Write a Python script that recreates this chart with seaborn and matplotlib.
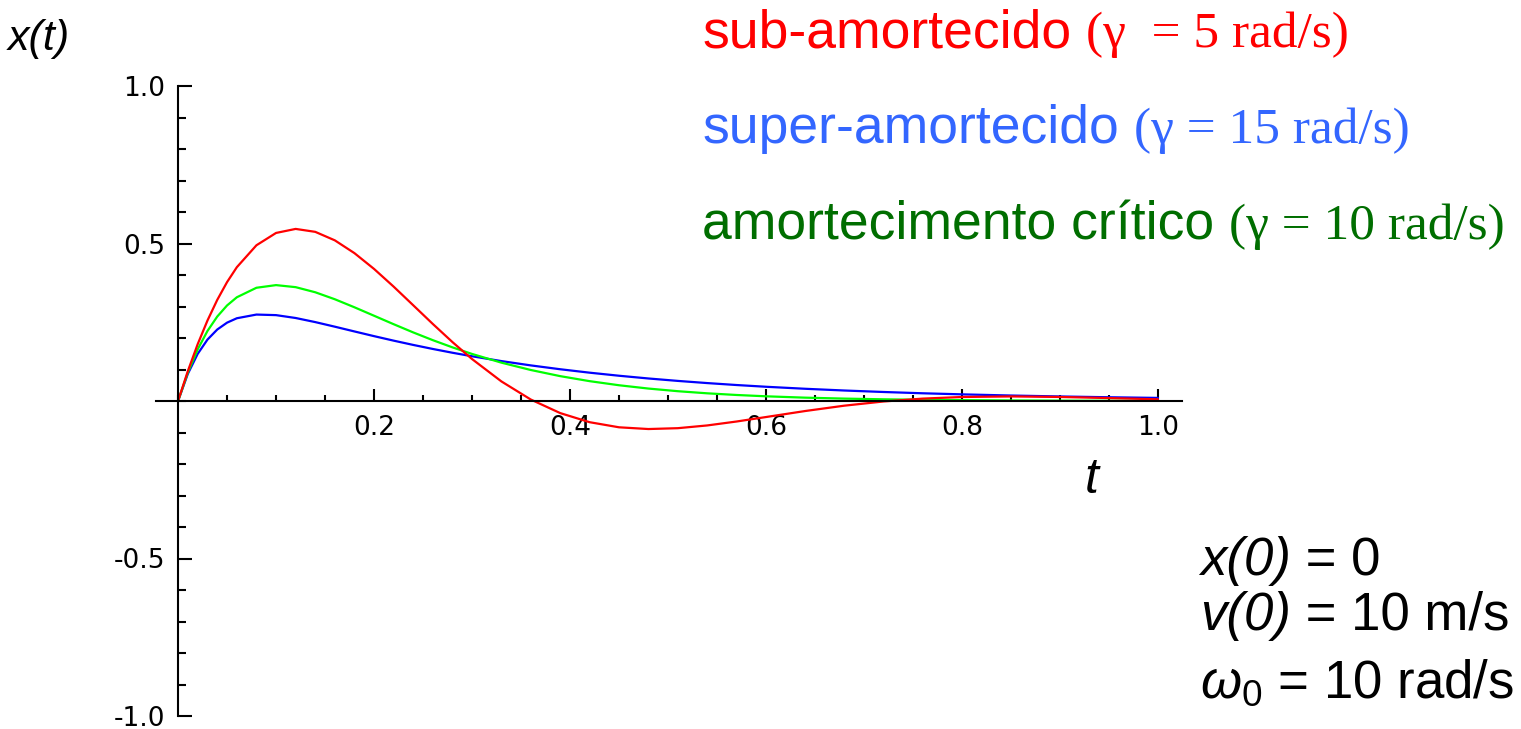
import matplotlib
matplotlib.use("Agg")
import matplotlib.pyplot as plt
from matplotlib.ticker import MultipleLocator
import pandas as pd
import seaborn as sns

# valores
t = [0, 0.01, 0.02, 0.03, 0.04, 0.05, 0.06,
     0.08, 0.10, 0.12, 0.14, 0.16, 0.18, 0.20, 0.22, 0.24, 0.26, 0.28, 0.30,
     0.33, 0.36, 0.39, 0.42, 0.45, 0.48, 0.51, 0.54, 0.57, 0.60,
     0.64, 0.68, 0.72, 0.76, 0.80,
     0.85, 0.90, 0.95, 1.00]
x_sub = [0, 0.0950, 0.1801, 0.2553, 0.3210, 0.3774, 0.4248,
         0.4944, 0.5335, 0.5463, 0.5370, 0.5100, 0.4694, 0.4193, 0.3631, 0.3039, 0.2445, 0.1871, 0.1332,
         0.0621, 0.0046, -0.0384, -0.0673, -0.0835, -0.0890, -0.0863, -0.0776, -0.0651, -0.0509,
         -0.0318, -0.0148, -0.0015, 0.0076, 0.0127,
         0.0145, 0.0128, 0.0093, 0.0054]
x_critico = [0, 0.0905, 0.1637, 0.2222, 0.2681, 0.3033, 0.3293,
             0.3595, 0.3679, 0.3614, 0.3452, 0.3230, 0.2975, 0.2707, 0.2438, 0.2177, 0.1931, 0.1703, 0.1494,
             0.1217, 0.0984, 0.0789, 0.0630, 0.0500, 0.0395, 0.0311, 0.0244, 0.0191, 0.0149,
             0.0106, 0.0076, 0.0054, 0.0038, 0.0027,
             0.0017, 0.0011, 0.0007, 0.0005]
x_super = [0, 0.0863, 0.1494, 0.1949, 0.2269, 0.2487, 0.2627,
           0.2744, 0.2726, 0.2635, 0.2505, 0.2359, 0.2208, 0.2059, 0.1916, 0.1780, 0.1652, 0.1532, 0.1420,
           0.1267, 0.1130, 0.1008, 0.0899, 0.0802, 0.0715, 0.0638, 0.0569, 0.0507, 0.0452,
           0.0388, 0.0333, 0.0286, 0.0245, 0.0211,
           0.0174, 0.0144, 0.0119, 0.0098]

df = pd.DataFrame({"t": t, "sub": x_sub, "critico": x_critico, "super": x_super})
df = df.melt(id_vars="t", var_name="caso", value_name="x")

sns.set_style("white")
plt.rcParams["font.family"] = ["DejaVu Sans"]
plt.rcParams["text.color"] = "black"
plt.rcParams["mathtext.fontset"] = "custom"
plt.rcParams["mathtext.it"] = "Liberation Sans:italic"
plt.rcParams["mathtext.rm"] = "Liberation Sans"

W, H = 1521, 729
fig = plt.figure(figsize=(W / 100, H / 100), dpi=100)
ax = fig.add_axes([156 / W, 13 / H, 1026 / W, 630 / H])

palette = {"super": "#0000ff", "critico": "#00ff00", "sub": "#ff0000"}
sns.lineplot(data=df, x="t", y="x", hue="caso", hue_order=["super", "critico", "sub"],
             palette=palette, linewidth=1.6, legend=False, ax=ax)

ax.set_xlim(-0.0225, 1.0245)
ax.set_ylim(-1, 1)
ax.set_xlabel("")
ax.set_ylabel("")
ax.spines["left"].set_position(("data", 0))
ax.spines["bottom"].set_position(("data", 0))
ax.spines["top"].set_visible(False)
ax.spines["right"].set_visible(False)
for s in ("left", "bottom"):
    ax.spines[s].set_linewidth(1.5)
    ax.spines[s].set_color("black")

ax.set_xticks([0.2, 0.4, 0.6, 0.8, 1.0])
ax.set_xticklabels(["0.2", "0.4", "0.6", "0.8", "1.0"])
ax.set_yticks([-1.0, -0.5, 0.5, 1.0])
ax.set_yticklabels(["-1.0", "-0.5", "0.5", "1.0"])
ax.xaxis.set_minor_locator(MultipleLocator(0.05))
ax.yaxis.set_minor_locator(MultipleLocator(0.1))
ax.tick_params(which="both", bottom=True, left=True, top=False, right=False,
               direction="in", width=1.5, color="black", labelcolor="black")
ax.tick_params(axis="x", which="major", length=8.6, labelsize=19, pad=10)
ax.tick_params(axis="x", which="minor", length=4.3)
ax.tick_params(axis="y", which="major", length=10, labelsize=19, pad=9)
ax.tick_params(axis="y", which="minor", length=5.5)
ax.patch.set_alpha(0)

fig.canvas.draw()
renderer = fig.canvas.get_renderer()


def escreve(x, yb, partes):
    # partes: (texto, família, estilo, tamanho, cor, espaço antes em px)
    for texto, fam, estilo, tam, cor, gap in partes:
        x += gap
        txt = fig.text(x / W, 1 - yb / H, texto, fontfamily=fam, style=estilo,
                       fontsize=tam, color=cor, va="baseline", ha="left")
        x = txt.get_window_extent(renderer).x1


# rótulos dos eixos
escreve(8, 50, [("x(t)", "Liberation Sans", "italic", 31, "black", 0)])
escreve(1085, 493, [("t", "Liberation Sans", "italic", 36, "black", 0)])

# legendas coloridas
linhas = [
    ("sub-amortecido", "(\u03b3  = 5 rad/s)", "#ff0000", 47),
    ("super-amortecido", "(\u03b3 = 15 rad/s)", "#3366ff", 143),
    ("amortecimento cr\u00edtico", "(\u03b3 = 10 rad/s)", "#006e00", 239),
]
for nome, gamma, cor, yb in linhas:
    escreve(702, yb, [(nome, "Liberation Sans", "normal", 38.5, cor, 0),
                      (gamma, "Liberation Serif", "normal", 37, cor, 15)])

# condições iniciais
escreve(1200, 575, [("x(0)", "Liberation Sans", "italic", 38, "black", 0),
                    (" = 0", "Liberation Sans", "normal", 38, "black", 0)])
escreve(1200, 630, [("v(0)", "Liberation Sans", "italic", 38, "black", 0),
                    (" = 10 m/s", "Liberation Sans", "normal", 38, "black", 0)])
escreve(1200, 698, [(r"$\omega_0$ = 10 rad/s", "Liberation Sans", "normal", 38, "black", 0)])

fig.savefig("out.png", dpi=100)
